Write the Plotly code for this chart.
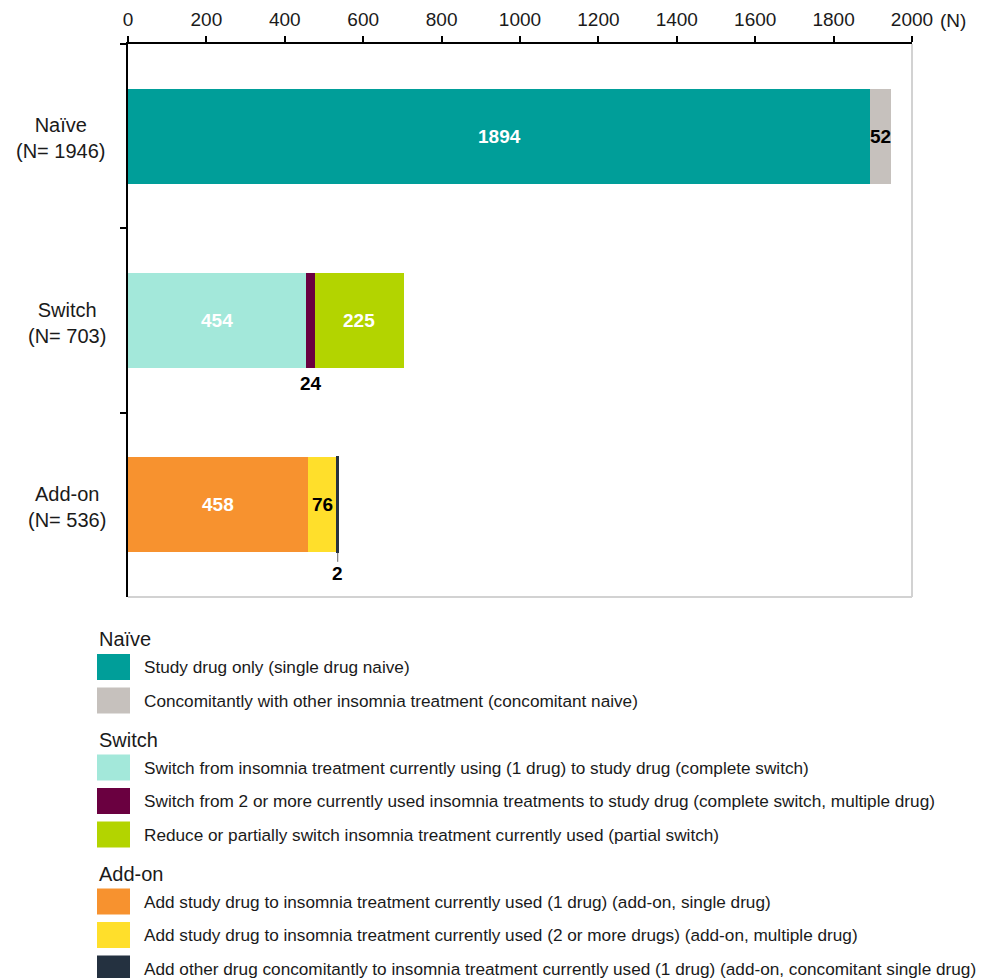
import plotly.graph_objects as go

# ---- data -------------------------------------------------------------
categories = ["Naïve", "Switch", "Add-on"]

series_names = [
    "Study drug only (single drug naive)",
    "Concomitantly with other insomnia treatment (concomitant naive)",
    "Switch from insomnia treatment currently using (1 drug) to study drug (complete switch)",
    "Switch from 2 or more currently used insomnia treatments to study drug (complete switch, multiple drug)",
    "Reduce or partially switch insomnia treatment currently used (partial switch)",
    "Add study drug to insomnia treatment currently used (1 drug) (add-on, single drug)",
    "Add study drug to insomnia treatment currently used (2 or more drugs) (add-on, multiple drug)",
    "Add other drug concomitantly to insomnia treatment currently used (1 drug) (add-on, concomitant single drug)",
]
series_group = ["Naïve", "Naïve", "Switch", "Switch", "Switch", "Add-on", "Add-on", "Add-on"]
series_values = [1894, 52, 454, 24, 225, 458, 76, 2]

x_ticks = [0, 200, 400, 600, 800, 1000, 1200, 1400, 1600, 1800, 2000]

# ---- styling ----------------------------------------------------------
colors = ["#009E99", "#C6C1BD", "#A3E8DA", "#6A0040", "#B3D400",
          "#F7922F", "#FFDF2B", "#243140"]
outline = [0, 0, 0, 0, 0, 0, 0, 2]
# value label style: (font colour, placed below the bar?)
label_style = [("white", False), ("black", False), ("white", False), ("black", True),
               ("white", False), ("white", False), ("black", False), ("black", True)]

FONT = "Liberation Sans, Arial, sans-serif"

W, H = 988, 978
L, R, T, B = 128, 912, 44, 597


def px_x(px):
    return (px - L) / (R - L)


def px_y(py):
    return (B - py) / (B - T)


fig = go.Figure()

for name, grp, val, col, ow in zip(series_names, series_group, series_values, colors, outline):
    fig.add_trace(go.Bar(
        x=[val], y=[grp], orientation="h", name=name,
        marker=dict(color=col, line=dict(width=ow, color=col)),
        showlegend=False, hoverinfo="x+name",
    ))

annotations = []
shapes = []

# value labels on the segments
running = {c: 0 for c in categories}
for grp, val, (fc, below) in zip(series_group, series_values, label_style):
    mid = running[grp] + val / 2
    running[grp] += val
    ann = dict(
        x=mid, y=grp, xref="x", yref="y", text=f"<b>{val}</b>", showarrow=False,
        font=dict(family=FONT, size=19, color=fc),
    )
    if below and val >= 10:
        ann.update(yshift=-63)
    elif below:
        # tiny segment: label hangs below with a short leader line
        ann.update(yshift=-48, showarrow=True, arrowhead=0, arrowwidth=1,
                   arrowcolor="#666666", ax=0, ay=21, standoff=0)
    annotations.append(ann)

# category labels with their totals
for cat in categories:
    annotations.append(dict(
        x=0, y=cat, xref="paper", yref="y", xanchor="right", xshift=-20, yshift=-2,
        text=f"{cat}<br>(N= {running[cat]})", showarrow=False, align="center",
        font=dict(family=FONT, size=20, color="#1a1a1a"),
    ))

# unit after the last tick label
annotations.append(dict(
    x=2000, y=1, xref="x", yref="paper", xanchor="left", yanchor="middle",
    xshift=26, yshift=24, text="(N)", showarrow=False,
    font=dict(family=FONT, size=19, color="#1a1a1a"),
))

# light frame on the right and bottom of the plot area
shapes.append(dict(type="line", xref="paper", yref="paper", x0=1, x1=1, y0=0, y1=1,
                   line=dict(color="#D2D2D2", width=2)))
shapes.append(dict(type="line", xref="paper", yref="paper", x0=0, x1=1, y0=0, y1=0,
                   line=dict(color="#D2D2D2", width=2)))

# grouped legend drawn below the chart
py = 639
prev_group = None
for name, grp, col in zip(series_names, series_group, colors):
    if grp != prev_group:
        if prev_group is not None:
            py += 39
        annotations.append(dict(
            x=px_x(97), y=px_y(py), xref="paper", yref="paper", xanchor="left",
            yanchor="middle", text=grp, showarrow=False,
            font=dict(family=FONT, size=20, color="#1a1a1a"),
        ))
        py += 28
        prev_group = grp
    else:
        py += 33.5
    shapes.append(dict(
        type="rect", xref="paper", yref="paper",
        x0=px_x(97), x1=px_x(130), y0=px_y(py - 13), y1=px_y(py + 13),
        fillcolor=col, line=dict(width=0),
    ))
    annotations.append(dict(
        x=px_x(142), y=px_y(py), xref="paper", yref="paper", xanchor="left",
        yanchor="middle", text=name, showarrow=False,
        font=dict(family=FONT, size=17.2, color="#1a1a1a"),
    ))

fig.update_layout(
    width=W, height=H,
    margin=dict(l=L, r=W - R, t=T, b=H - B, pad=0, autoexpand=False),
    barmode="stack", bargap=0.485,
    plot_bgcolor="white", paper_bgcolor="white",
    showlegend=False,
    annotations=annotations, shapes=shapes,
    font=dict(family=FONT, color="#1a1a1a"),
    xaxis=dict(
        side="top", range=[0, 2000], tickvals=x_ticks,
        ticktext=[str(t) for t in x_ticks],
        showline=True, linecolor="black", linewidth=1.5,
        ticks="outside", ticklen=6, tickwidth=1.5, tickcolor="black",
        ticklabelstandoff=3, automargin=False,
        showgrid=False, zeroline=False,
        tickfont=dict(family=FONT, size=19, color="#1a1a1a"),
    ),
    yaxis=dict(
        type="category", categoryorder="array", categoryarray=categories,
        autorange="reversed", tickson="boundaries", automargin=False,
        showline=True, linecolor="black", linewidth=1.5,
        ticks="outside", ticklen=6, tickwidth=1.5, tickcolor="black",
        showticklabels=False, showgrid=False, zeroline=False,
    ),
)

fig.write_html("out.html")
